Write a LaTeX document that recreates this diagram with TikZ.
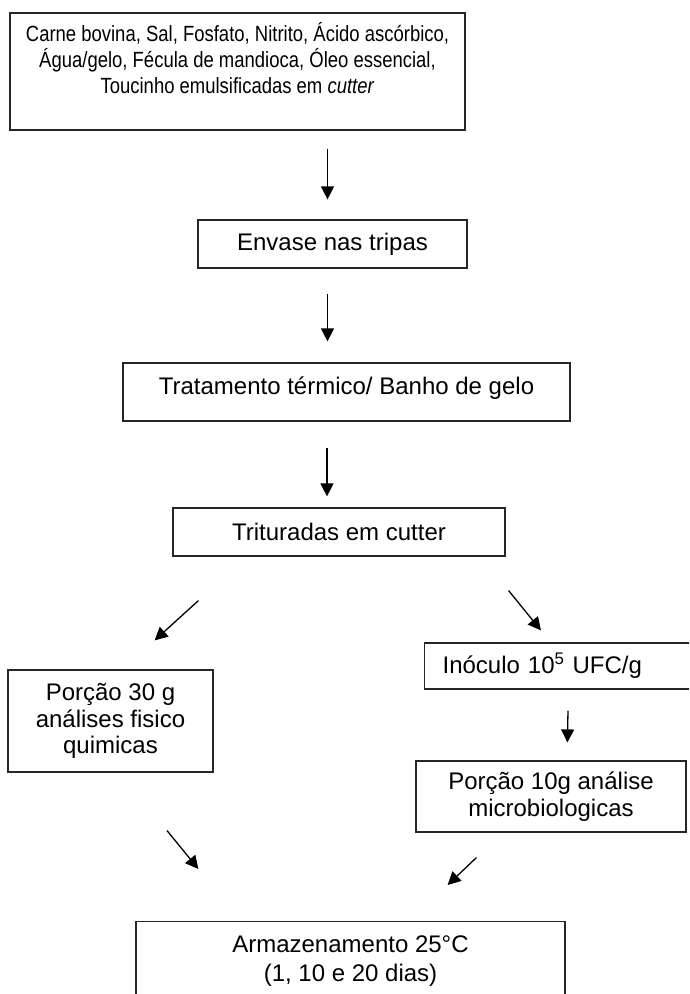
\documentclass[tikz,border=0pt]{standalone}
\usepackage{fontspec}
\setmainfont{Liberation Sans}
\newfontfamily\narrowfont{Liberation Sans}[FakeStretch=0.84]
\usetikzlibrary{arrows.meta,calc}

\tikzset{
  box/.style={draw=black!85, line width=1.2pt, inner sep=0pt, align=center,
    font=\fontsize{24}{26.5}\selectfont},
  arr/.style={line width=1.3pt, -{Triangle[length=13pt,width=13pt]}}
}

\begin{document}
\begin{tikzpicture}[x=1pt, y=-1pt]
  \useasboundingbox (0,0) rectangle (689,994);
  \clip (0,0) rectangle (689,994);
  % steps of the process
  \node[box, minimum width=455, minimum height=117] (top) at (237.5,71.5)
    {\parbox[c][117pt][t]{455pt}{\centering\narrowfont\fontsize{22}{26}\selectfont
      \rule{0pt}{28pt}Carne bovina, Sal, Fosfato, Nitrito, Ácido ascórbico,\\
      Água/gelo, Fécula de mandioca, Óleo essencial,\\
      Toucinho emulsificadas em \textit{cutter}}};
  \node[box, minimum width=269, minimum height=48] (envase) at (332.5,244) {Envase nas tripas};
  \node[box] (trat) at (346.5,392)
    {\parbox[c][58pt][t]{447pt}{\centering\rule{0pt}{31.5pt}Tratamento térmico/ Banho de gelo}};
  \node[box, minimum width=332, minimum height=48] (tri) at (339,532) {Trituradas em cutter};
  \node[box, anchor=west, minimum height=46, inner xsep=18pt, text width=284pt, align=left] (ino)
    at (424,666) {Inóculo 10\textsuperscript{5} UFC/g};
  \node[box, minimum width=270, minimum height=71] (p10) at (551,796.5) {Porção 10g análise\\ microbiologicas};
  \node[box, minimum width=205, minimum height=102] (p30) at (110.5,721) {Porção 30 g\\ análises fisico\\ quimicas};
  \node[box, anchor=north] (arm) at (350.5,921)
    {\parbox[c][100pt][t]{429pt}{\centering\fontsize{24}{29}\selectfont
      \rule{0pt}{30.5pt}Armazenamento 25°C\\ (1, 10 e 20 dias)}};

  % arrows
  \draw[arr, shorten <=18pt, shorten >=20pt] ([xshift=-5pt]envase.north |- top.south) -- ([xshift=-5pt]envase.north);
  \draw[arr, shorten <=25pt, shorten >=21pt] ([xshift=-5pt]envase.south) -- ([xshift=-5pt]envase.south |- trat.north);
  \draw[arr, shorten <=26pt, shorten >=11pt] ([xshift=-12pt]tri.north |- trat.south) -- ([xshift=-12pt]tri.north);
  \draw[arr] ($(tri.south west)+(26,44)$) -- ($(p30.north east)+(-59,-29)$);
  \draw[arr] ($(tri.south east)+(3,34)$) -- ($(ino.north west)+(117,-12)$);
  \draw[arr] ($(ino.south west)+(144,21)$) -- ($(p10.north west)+(152,-18)$);
  \draw[arr] ($(p30.south)+(56.5,58)$) -- ($(arm.north west)+(63,-52)$);
  \draw[arr] ($(p10.south west)+(61,25)$) -- ($(arm.north east)+(-118,-36)$);
\end{tikzpicture}
\end{document}
